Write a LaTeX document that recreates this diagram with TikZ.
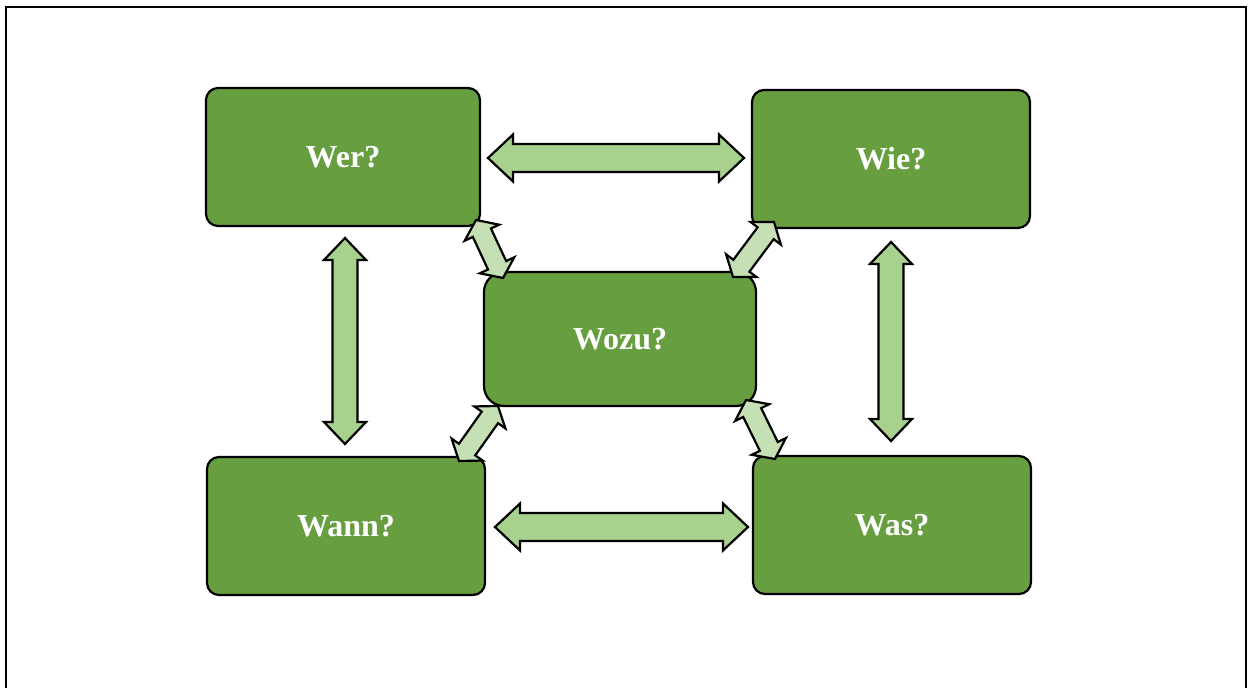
\documentclass[tikz,border=0pt]{standalone}
\usepackage{fontspec}
\setmainfont{Liberation Serif}
\usetikzlibrary{calc}
\definecolor{boxgreen}{RGB}{102,158,64}
\definecolor{arrowgreen}{RGB}{169,209,142}
\definecolor{diaggreen}{RGB}{197,224,180}
\tikzset{
  qbox/.style={draw=black, line width=2.2pt, fill=boxgreen, rounded corners=12pt,
    minimum width=276pt, minimum height=137pt, inner sep=0pt,
    text=white, font=\fontsize{32}{38}\selectfont\bfseries},
  barrow/.style={draw=black, line width=2.2pt, line join=miter, miter limit=10},
}
\newcommand\blockarrow[6]{%
  \path let \p1=(#1), \p2=(#2) in \pgfextra{%
    \pgfmathsetmacro\baang{atan2(\y2-\y1,\x2-\x1)}%
    \pgfmathsetmacro\balen{veclen(\x2-\x1,\y2-\y1)}%
    \xdef\baangG{\baang}\xdef\balenG{\balen}\xdef\baxG{\x1}\xdef\bayG{\y1}};
  \pgfmathsetmacro\bab{\balenG-#3}%
  \filldraw[barrow, fill=#6, shift={(\baxG,\bayG)}, rotate=\baangG]
    (0pt,0pt) -- (#3pt,#4pt) -- (#3pt,#5pt) -- (\bab pt,#5pt) -- (\bab pt,#4pt)
    -- (\balenG pt,0pt) -- (\bab pt,-#4pt) -- (\bab pt,-#5pt) -- (#3pt,-#5pt)
    -- (#3pt,-#4pt) -- cycle;
}
\begin{document}
\begin{tikzpicture}[x=1pt,y=-1pt]
\useasboundingbox (0,0) rectangle (1248,688);
\clip (0,0) rectangle (1248,688);
\fill[white] (0,0) rectangle (1248,688);
\draw[line width=2.2pt] (6,7) rectangle (1246,698);

% arrow end points
\coordinate (h1s) at (488,158);  \coordinate (h1e) at (744,158);
\coordinate (h2s) at (495,527);  \coordinate (h2e) at (748,527);
\coordinate (v1s) at (345,238);  \coordinate (v1e) at (345,444);
\coordinate (v2s) at (891,242);  \coordinate (v2e) at (891,441);
\coordinate (d1s) at (476,220);  \coordinate (d1e) at (503,278);
\coordinate (d2s) at (774,222);  \coordinate (d2e) at (733,277);
\coordinate (d3s) at (498,406);  \coordinate (d3e) at (459,461);
\coordinate (d4s) at (746,400);  \coordinate (d4e) at (775,459);

\blockarrow{h1s}{h1e}{25}{23.5}{14}{arrowgreen}
\blockarrow{h2s}{h2e}{25}{23.5}{14}{arrowgreen}
\blockarrow{v1s}{v1e}{22}{21}{12.5}{arrowgreen}
\blockarrow{v2s}{v2e}{22}{21}{12.5}{arrowgreen}

\node[qbox, minimum width=274pt, minimum height=138pt] (wer) at (343,157) {Wer?};
\node[qbox, minimum width=278pt, minimum height=138pt] (wie) at (891,159) {Wie?};
\node[qbox, minimum width=272pt, minimum height=134pt, rounded corners=20pt] (wozu) at (620,339) {Wozu?};
\node[qbox, minimum width=278pt, minimum height=138pt] (wann) at (346,526) {Wann?};
\node[qbox, minimum width=278pt, minimum height=138pt] (was) at (892,525) {Was?};

\blockarrow{d1s}{d1e}{14}{19}{10}{diaggreen}
\blockarrow{d2s}{d2e}{14}{19}{10}{diaggreen}
\blockarrow{d3s}{d3e}{14}{19}{10}{diaggreen}
\blockarrow{d4s}{d4e}{14}{19}{10}{diaggreen}
\end{tikzpicture}
\end{document}
